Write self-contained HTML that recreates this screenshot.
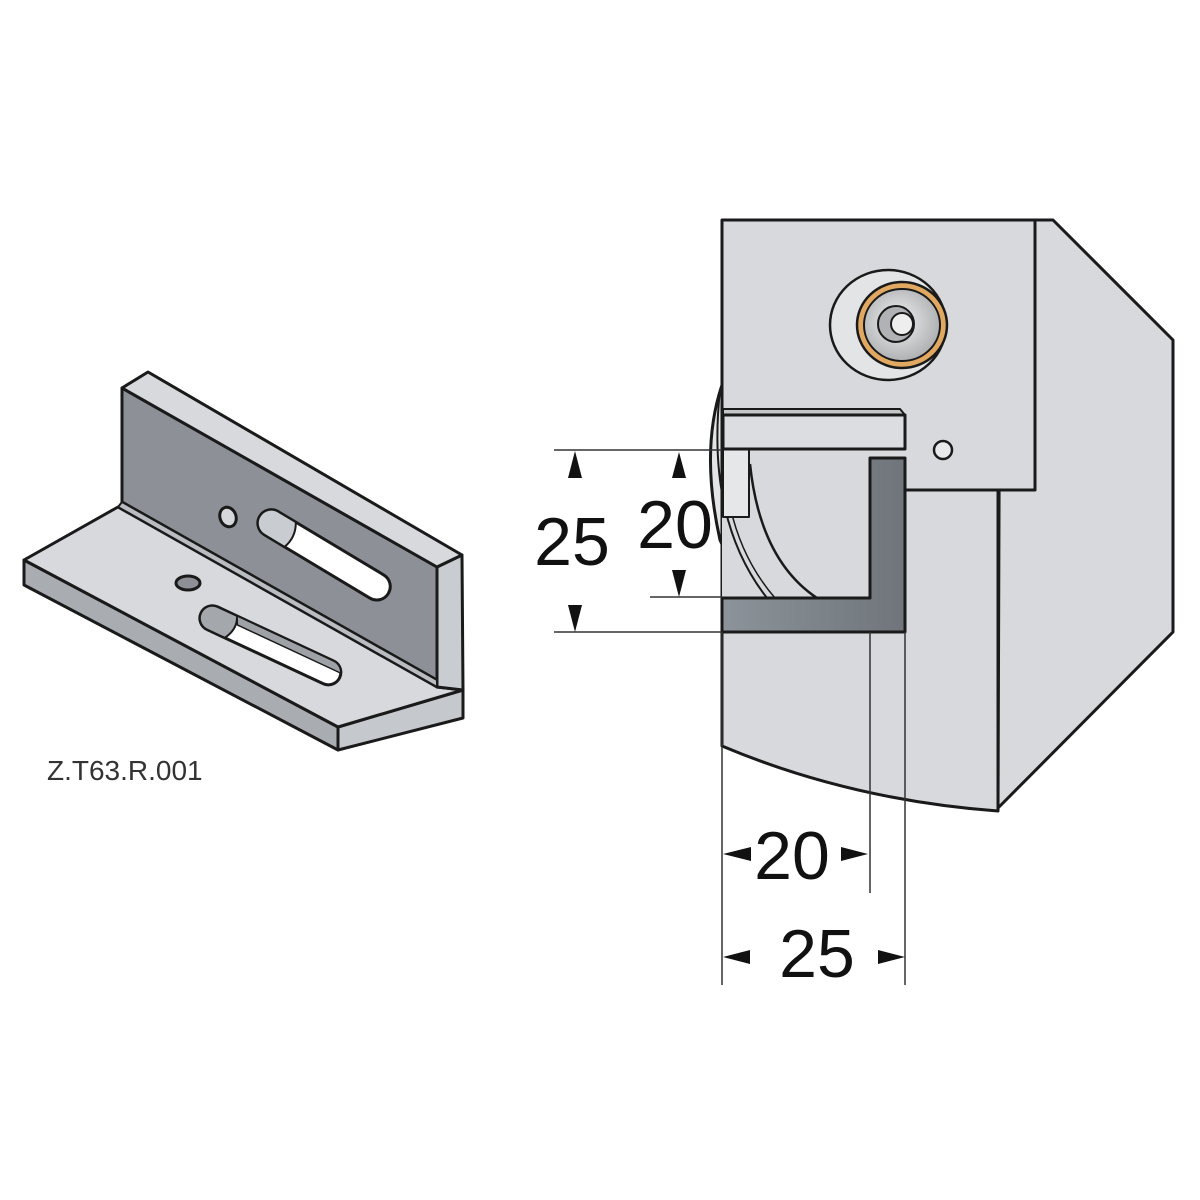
<!DOCTYPE html>
<html><head><meta charset="utf-8"><style>
html,body{margin:0;padding:0;background:#fff;}
svg{display:block;}
</style></head><body>
<svg width="1200" height="1200" viewBox="0 0 1200 1200" xmlns="http://www.w3.org/2000/svg">
<defs>
<radialGradient id="bolt" cx="0.45" cy="0.45" r="0.6"><stop offset="0" stop-color="#f2f2f2"/><stop offset="1" stop-color="#a9abae"/></radialGradient>
<linearGradient id="dk" x1="0" y1="0" x2="1" y2="0"><stop offset="0" stop-color="#8c939a"/><stop offset="1" stop-color="#6f757b"/></linearGradient>
</defs>
<g stroke="#1a1a1a" stroke-width="3" stroke-linejoin="round">
<!-- base front face -->
<polygon points="24,560 338,727 338,750 24,585" fill="#a9acb1"/>
<!-- base right face -->
<polygon points="338,727 463,690 463,718 338,750" fill="#c5c8cc"/>
<!-- base top -->
<polygon points="24,560 118,507 437,687 463,690 338,727" fill="#d7d9dd"/>
<!-- vertical plate right face -->
<polygon points="437,567 462,555 463,690 437,687" fill="#c9ccd0"/>
<!-- vertical plate front face -->
<polygon points="122,388 437,567 437,680 122,502" fill="#8d9197"/>
<!-- fillet strip -->
<polygon points="118,507 122,502 437,680 437,687" fill="#b9bcc0" stroke-width="2"/>
<!-- vertical plate top -->
<polygon points="122,388 148,372 462,555 437,567" fill="#d7d9dd"/>
<!-- holes -->
<ellipse cx="228" cy="517" rx="8" ry="10" fill="#d5d7da" transform="rotate(-20 228 517)"/>
<ellipse cx="188" cy="583" rx="12" ry="7" fill="#8d9197"/>
<!-- upper slot -->
<g transform="rotate(31 272 523)">
<rect x="258" y="510" width="150" height="27" rx="13.5" fill="#fff"/>
<path d="M271.5,510 A13.5,13.5 0 0 0 271.5,537 L295,537 Q300,523 292,510 Z" fill="#c9ccd0" stroke-width="2"/>
</g>
<!-- lower slot -->
<g transform="rotate(25 213 618)">
<rect x="200" y="606" width="153" height="25" rx="12.5" fill="#fff"/>
<path d="M212.5,606 A12.5,12.5 0 0 0 212.5,631 L232,631 Q240,618 234,606 Z" fill="#a4a8ad" stroke-width="2"/>
<path d="M234,606 L340,606 A12.5,12.5 0 0 1 352,614 L238,614 Z" fill="#9ea2a7" stroke-width="1.5"/>
</g>
</g>
<text x="47" y="780" font-family="Liberation Sans, sans-serif" font-size="28" fill="#333">Z.T63.R.001</text>

<!-- right holder -->
<g stroke="#1a1a1a" stroke-width="3" stroke-linejoin="round">
<polygon points="1000,220 1053,220 1173,340 1173,632 998,808" fill="#d8d9dc"/>
<path d="M722,490 L998,490 L998,811 Q850,800 722,746 Z" fill="#d8d9dc"/>
<path d="M722,385 Q700,450 720,540 Q740,585 767,598 L722,598 Z" fill="#e3e4e6"/>
<rect x="722" y="220" width="313" height="270" fill="#d8d9dc"/>
<path d="M722,449 L905,449 L905,632 L722,632 Z" fill="#d8d9dc" stroke="none"/>
<path d="M720,390 Q706,520 767,598" fill="none" stroke-width="2"/>
<path d="M724,450 Q725,540 775,598" fill="none" stroke-width="1.5"/>
<path d="M750,464 Q760,560 817,598" fill="none" stroke-width="2.5"/>
<rect x="723" y="449" width="26" height="68" fill="#e6e7e9" stroke-width="2"/>
<polygon points="723,409 900,409 905,415 723,415" fill="#c4c6c9" stroke-width="2"/>
<rect x="723" y="415" width="182" height="34" fill="#dcdde0"/>
<polygon points="870,458 905,458 905,632 722,632 722,598 870,598" fill="url(#dk)"/>
<ellipse cx="888" cy="325" rx="58" ry="55" fill="#e3e4e6" stroke-width="2.5"/>
<ellipse cx="902" cy="325" rx="45" ry="43" fill="#e0a860" stroke-width="2.5"/>
<ellipse cx="902" cy="325" rx="38" ry="36" fill="url(#bolt)" stroke-width="2"/>
<circle cx="896" cy="324" r="18" fill="#b0b2b5" stroke-width="2"/>
<circle cx="902" cy="324" r="11" fill="#eee" stroke-width="2"/>
<circle cx="943" cy="450" r="9" fill="#e8e9eb" stroke-width="2.5"/>
</g>

<g stroke="#333" stroke-width="1.5" fill="none">
<line x1="554" y1="450" x2="722" y2="450"/>
<line x1="554" y1="632" x2="722" y2="632"/>
<line x1="650" y1="597" x2="722" y2="597"/>
<line x1="722" y1="632" x2="722" y2="985"/>
<line x1="870" y1="632" x2="870" y2="893"/>
<line x1="905" y1="632" x2="905" y2="985"/>
</g>
<g fill="#111">
<polygon points="575,451 568,478 582,478"/>
<polygon points="575,632 568,605 582,605"/>
<polygon points="679,452 672,478 686,478"/>
<polygon points="679,597 672,570 686,570"/>
<polygon points="723,854 751,847 751,861"/>
<polygon points="868,854 841,847 841,861"/>
<polygon points="723,957 750,950 750,964"/>
<polygon points="905,957 878,950 878,964"/>
</g>
<g font-family="Liberation Sans, sans-serif" font-size="68" fill="#111" text-anchor="middle">
<text x="572" y="565">25</text>
<text x="675" y="548">20</text>
<text x="792" y="879">20</text>
<text x="817" y="977">25</text>
</g>
</svg>
</body></html>
